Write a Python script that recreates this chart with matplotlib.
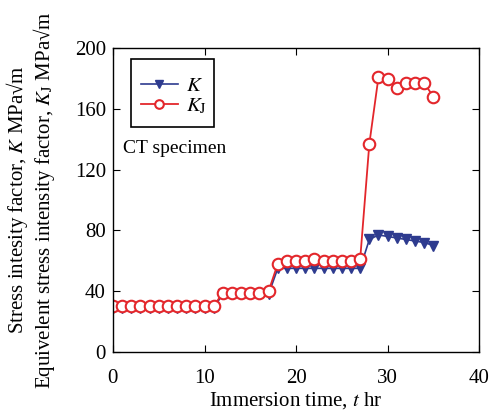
import matplotlib
matplotlib.use("Agg")
import matplotlib.pyplot as plt
from matplotlib.patches import Rectangle

plt.rcParams['font.family'] = ['Liberation Serif', 'DejaVu Serif']
plt.rcParams['mathtext.fontset'] = 'stix'

time_hr = list(range(0, 36))
K = [29]*12 + [38]*6 + [55, 55, 55, 55, 55, 55, 55, 55, 55, 55] + [74, 77, 76, 75, 74, 73, 72, 70]
KJ = [30]*12 + [39, 39, 39, 39, 39, 40] + [58, 60, 60, 60, 61, 60, 60, 60, 60, 61] + [137, 181, 180, 174, 177, 177, 177, 168]

blue = '#2e3b8f'
red = '#e3262b'

fig = plt.figure(figsize=(4.91, 4.12), dpi=100)
ax = fig.add_axes([0.230, 0.146, 0.746, 0.737])

ax.plot(time_hr, K, color=blue, marker='v', markersize=7, lw=1.2, label='$K$')
ax.plot(time_hr, KJ, color=red, marker='o', markersize=8.3, markerfacecolor='white',
        markeredgewidth=1.5, lw=1.3, label='$K_\\mathrm{J}$')

ax.set_xlim(0, 40)
ax.set_ylim(0, 200)
ax.set_xticks([0, 10, 20, 30, 40])
ax.set_yticks([0, 40, 80, 120, 160, 200])
ax.tick_params(direction='in', top=True, right=True, labelsize=15, length=5)
ax.tick_params(axis='x', pad=12)
ax.tick_params(axis='y', pad=5)
for s in ax.spines.values():
    s.set_linewidth(1.0)

ax.set_xlabel('Immersion time, $t$ hr', fontsize=15, labelpad=2)
ax.set_ylabel('Stress intesity factor, $K$ MPa\u221am\n'
              'Equivelent stress intensity factor, $K_\\mathrm{J}$ MPa\u221am',
              fontsize=15, labelpad=13, linespacing=1.05)

leg = ax.legend(loc='upper left', bbox_to_anchor=(0.077, 0.906), fontsize=15, frameon=False,
                handlelength=1.75, handletextpad=0.4, borderpad=0.0, borderaxespad=0.0,
                labelspacing=0.0, markerscale=0.75)
ax.add_patch(Rectangle((0.049, 0.740), 0.227, 0.224, transform=ax.transAxes,
                       fill=False, edgecolor='black', lw=1.2, zorder=5))

ax.text(0.028, 0.67, 'CT specimen', transform=ax.transAxes, fontsize=14, va='center')

fig.savefig('out.png', dpi=100)
